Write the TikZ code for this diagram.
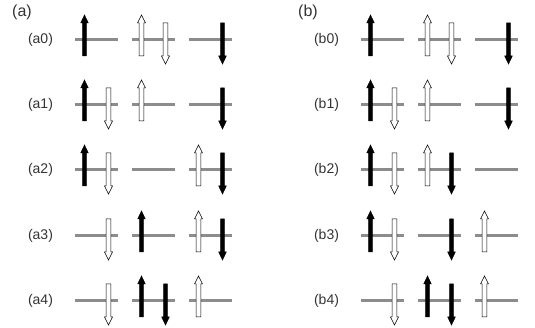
\documentclass[tikz,border=0pt]{standalone}
\usepackage{fontspec}
\setmainfont{Liberation Sans}

%ARROW MACROS (x, y of level, fill, half shaft, half head)
\newcommand{\arrup}[5]{\filldraw[fill=#3,line width=0.5pt] ({#1-#4},{#2+16}) -- ({#1-#4},{#2-17}) -- ({#1-#5},{#2-17}) -- ({#1},{#2-25}) -- ({#1+#5},{#2-17}) -- ({#1+#4},{#2-17}) -- ({#1+#4},{#2+16}) -- cycle;}
\newcommand{\arrdn}[5]{\filldraw[fill=#3,line width=0.5pt] ({#1-#4},{#2-17}) -- ({#1-#4},{#2+16}) -- ({#1-#5},{#2+16}) -- ({#1},{#2+24}) -- ({#1+#5},{#2+16}) -- ({#1+#4},{#2+16}) -- ({#1+#4},{#2-17}) -- cycle;}
\newcommand{\upB}[2]{\arrup{#1}{#2}{black}{1.8}{3.8}}
\newcommand{\upW}[2]{\arrup{#1}{#2}{white}{2.3}{4}}
\newcommand{\upN}[2]{}
\newcommand{\dnB}[2]{\arrdn{#1}{#2}{black}{1.8}{3.8}}
\newcommand{\dnW}[2]{\arrdn{#1}{#2}{white}{2.3}{4}}
\newcommand{\dnN}[2]{}
%LEVEL (left x, y, up kind, down kind)
\newcommand{\level}[4]{%
	\draw[levelline] (#1,#2) -- ++(43,0);
	\csname up#3\endcsname{#1+9.5}{#2}
	\csname dn#4\endcsname{#1+33.5}{#2}}

\begin{document}
\begin{tikzpicture}[x=1pt, y=-1pt, font=\fontsize{14}{15}\selectfont, text=black!80]

%STYLES
\tikzstyle{levelline}=[draw={rgb,255:red,140;green,140;blue,140}, line width=3pt]
\tikzstyle{panellabel}=[font=\fontsize{16}{17}\selectfont]
\useasboundingbox (0,0) rectangle (535,328);

%PANEL LABELS
\node[panellabel] (pa) at (22,12) {(a)};
\node[panellabel] (pb) at (308,12) {(b)};

%ROWS
\foreach \lab/\xo/\y/\ua/\da/\ub/\db/\uc/\dc in {
	a0/0/40/B/N/W/W/N/B,
	a1/0/105/B/W/W/N/N/B,
	a2/0/170/B/W/N/N/W/B,
	a3/0/236/N/W/B/N/W/B,
	a4/0/301/N/W/B/B/W/N,
	b0/286/40/B/N/W/W/N/B,
	b1/286/105/B/W/W/N/N/B,
	b2/286/170/B/W/W/B/N/N,
	b3/286/236/B/W/N/B/W/N,
	b4/286/301/N/W/B/B/W/N}
{
	\node (\lab) at (40.5+\xo,\y) {(\lab)};
	\level{75+\xo}{\y}{\ua}{\da}
	\level{132+\xo}{\y}{\ub}{\db}
	\level{189+\xo}{\y}{\uc}{\dc}
}

\end{tikzpicture}
\end{document}
